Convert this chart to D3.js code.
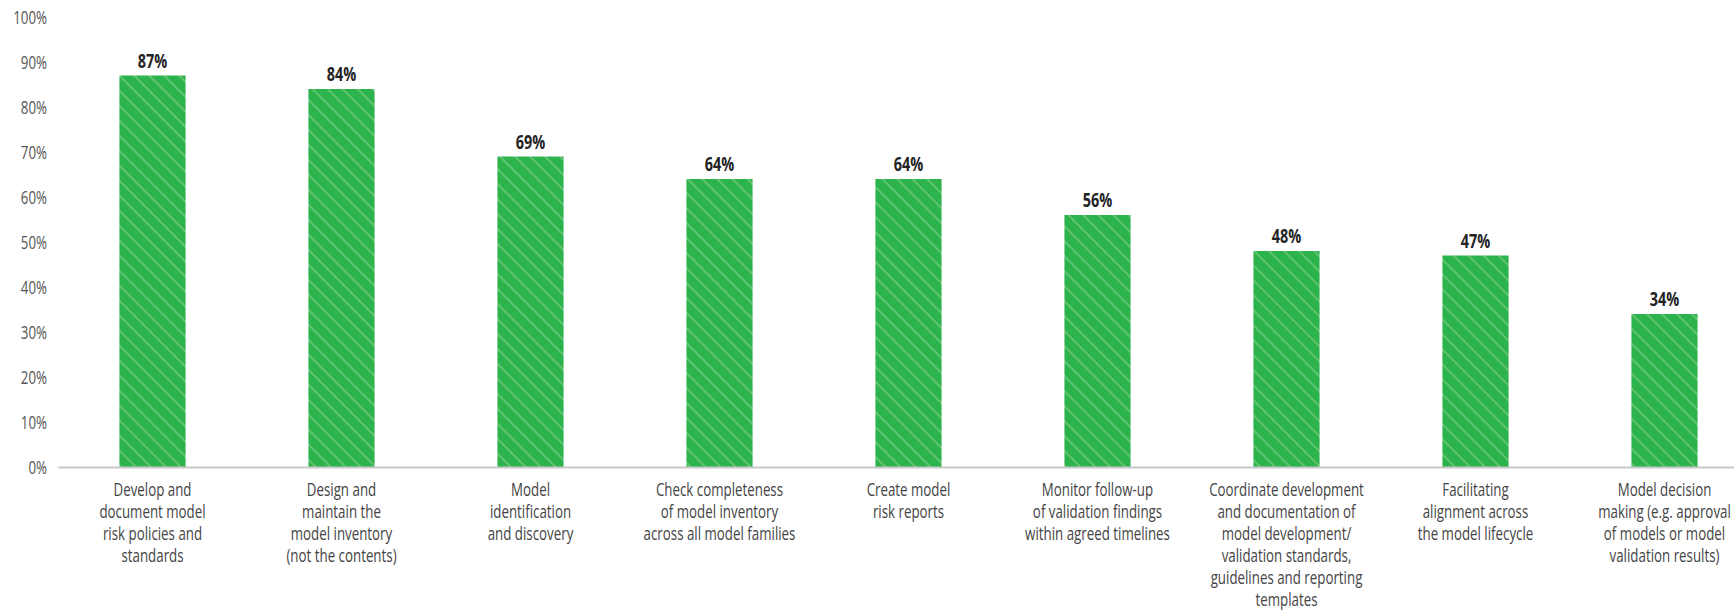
<!DOCTYPE html>
<html><head><meta charset="utf-8">
<script src="https://cdn.jsdelivr.net/npm/d3@7"></script>
<style>body{margin:0;background:#fff;overflow:hidden}</style>
</head><body><svg id="c" width="1734" height="611"></svg>
<script>
const categories = ["Develop","Design","Identification","Completeness","Reports","Monitor","Coordinate","Facilitating","Decision"];
const labelLines = [
  ["Develop and","document model","risk policies and","standards"],
  ["Design and","maintain the","model inventory","(not the contents)"],
  ["Model","identification","and discovery"],
  ["Check completeness","of model inventory","across all model families"],
  ["Create model","risk reports"],
  ["Monitor follow-up","of validation findings","within agreed timelines"],
  ["Coordinate development","and documentation of","model development/","validation standards,","guidelines and reporting","templates"],
  ["Facilitating","alignment across","the model lifecycle"],
  ["Model decision","making (e.g. approval","of models or model","validation results)"]
];
const values = [87,84,69,64,64,56,48,47,34];
const yTicks = [0,10,20,30,40,50,60,70,80,90,100];

const SX = 0.74;
const FONT = "'Open Sans', 'Noto Sans', sans-serif";
const svg = d3.select("#c");

const x = d3.scaleBand().domain(categories).range([58,1759]).paddingInner(0.65).paddingOuter(0.325);
const y = d3.scaleLinear().domain([0,100]).range([467,17]);

const defs = svg.append("defs");
const pat = defs.append("pattern").attr("id","hatch").attr("patternUnits","userSpaceOnUse")
  .attr("width",10.6).attr("height",10.6).attr("patternTransform","rotate(45)");
pat.append("rect").attr("width",10.6).attr("height",10.6).attr("fill","#2db34c");
pat.append("rect").attr("y",0).attr("width",10.6).attr("height",1.7).attr("fill","#66c679");

// y axis labels
const yAxis = svg.append("g").attr("transform","translate(58,0)")
  .call(d3.axisLeft(y).tickValues(yTicks).tickSize(0).tickFormat(d=>d+"%"));
yAxis.select(".domain").remove();
yAxis.selectAll("text")
  .attr("x",-11/SX).attr("dy","0.34em")
  .attr("transform",`scale(${SX},1)`)
  .attr("font-family",FONT).attr("font-size",18).attr("fill","#555");

// bars
svg.append("g").selectAll("rect").data(values).join("rect")
  .attr("x",(d,i)=>x(categories[i]))
  .attr("width",x.bandwidth())
  .attr("y",d=>y(d))
  .attr("height",d=>y(0)-y(d))
  .attr("fill","url(#hatch)");

// value labels
svg.append("g").selectAll("text").data(values).join("text")
  .attr("transform",(d,i)=>`translate(${x(categories[i])+x.bandwidth()/2},${y(d)-8}) scale(${SX},1)`)
  .attr("text-anchor","middle")
  .attr("font-family",FONT).attr("font-weight","bold").attr("font-size",19.5).attr("fill","#222")
  .text(d=>d+"%");

// x axis
const xAxis = svg.append("g").attr("transform",`translate(0,${y(0)})`)
  .call(d3.axisBottom(x).tickSize(0).tickSizeOuter(0).tickFormat(""));
xAxis.select(".domain").attr("stroke","#c8c8c8").attr("stroke-width",2);
xAxis.selectAll(".tick").each(function(d){
  const i = categories.indexOf(d);
  const g = d3.select(this);
  g.select("text").remove();
  const t = g.append("text")
    .attr("transform",`scale(${SX},1)`)
    .attr("text-anchor","middle")
    .attr("font-family",FONT).attr("font-size",18).attr("fill","#444");
  labelLines[i].forEach((ln,k)=>{
    t.append("tspan").attr("x",0).attr("y",29+22*k).text(ln);
  });
});
</script></body></html>
